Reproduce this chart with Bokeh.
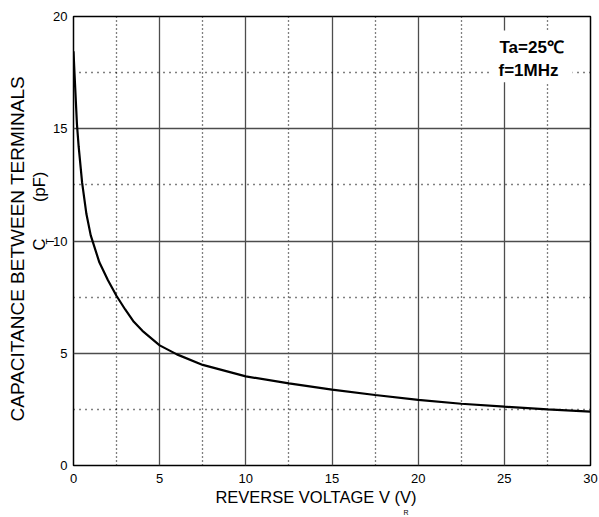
from bokeh.plotting import figure
from bokeh.models import Range1d, FixedTicker, Label, BoxAnnotation, Title
from bokeh.embed import file_html
from bokeh.resources import INLINE

# ---- data ----
reverse_voltage = [0, 0.05, 0.1, 0.2, 0.3, 0.5, 0.75, 1.0, 1.5, 2.0, 2.5, 3.0, 3.5, 4.0,
                   5.0, 6.0, 7.5, 10, 12.5, 15, 17.5, 20, 22.5, 25, 27.5, 30]
capacitance = [18.45, 17.6, 16.8, 15.2, 14.2, 12.6, 11.2, 10.25, 9.05, 8.25, 7.55, 6.95, 6.4, 6.0,
               5.35, 4.95, 4.48, 3.97, 3.66, 3.38, 3.14, 2.92, 2.75, 2.62, 2.5, 2.4]
x_ticks = [0, 5, 10, 15, 20, 25, 30]
x_minor = [2.5, 7.5, 12.5, 17.5, 22.5, 27.5]
y_ticks = [0, 5, 10, 15, 20]
y_minor = [2.5, 7.5, 12.5, 17.5]

FONT = "Liberation Sans"
W, H = 599, 517
BL, BR, BT, BB = 73, 9, 16, 50

p = figure(width=W, height=H, output_backend="svg", toolbar_location=None,
           x_range=Range1d(0, 30), y_range=Range1d(0, 20),
           min_border_left=BL, min_border_right=BR, min_border_top=BT, min_border_bottom=BB)
p.background_fill_color = "white"
p.border_fill_color = "white"
p.outline_line_color = "black"
p.outline_line_width = 1.5

p.xaxis.ticker = FixedTicker(ticks=x_ticks, minor_ticks=x_minor)
p.yaxis.ticker = FixedTicker(ticks=y_ticks, minor_ticks=y_minor)
for ax in (p.xaxis, p.yaxis):
    ax.axis_line_color = None
    ax.major_tick_out = 0
    ax.major_tick_in = 0
    ax.minor_tick_out = 0
    ax.minor_tick_in = 0
    ax.major_label_text_font = FONT
    ax.major_label_text_font_size = "13px"
    ax.major_label_text_color = "black"
p.yaxis.major_label_standoff = 6
p.xaxis.major_label_standoff = 8

# x-axis title (trailing no-break spaces shift the centred text to the left like the reference)
p.xaxis.axis_label = "REVERSE VOLTAGE V (V)" + "\u00a0" * 7
p.xaxis.axis_label_text_font = FONT
p.xaxis.axis_label_text_font_size = "16.5px"
p.xaxis.axis_label_text_font_style = "normal"
p.xaxis.axis_label_text_color = "black"
p.xaxis.axis_label_standoff = 2

p.xgrid.grid_line_color = "#4d4d4d"
p.ygrid.grid_line_color = "#4d4d4d"
p.xgrid.grid_line_width = 1.3
p.ygrid.grid_line_width = 1.3
p.xgrid.minor_grid_line_color = "black"
p.ygrid.minor_grid_line_color = "black"
p.xgrid.minor_grid_line_width = 1.3
p.ygrid.minor_grid_line_width = 1.3
p.xgrid.minor_grid_line_dash = "1 3"
p.ygrid.minor_grid_line_dash = "1 5"

p.line(reverse_voltage, capacitance, line_color="black", line_width=2.2)

# ---- side-panel titles (precise offsets along the frame) ----
def side_title(text, side, offset, size, standoff=0, valign="bottom"):
    t = Title(text=text, align="left", offset=offset, standoff=standoff,
              vertical_align=valign,
              text_font=FONT, text_font_size=size, text_font_style="normal",
              text_color="black")
    p.add_layout(t, side)
    return t

side_title("R", "below", 330, "7px", standoff=0, valign="top")

side_title("T", "left", 221, "10px", standoff=-10)
side_title("C" + "\u00a0" * 8 + "(pF)", "left", 215, "16.5px", standoff=0)
side_title("CAPACITANCE BETWEEN TERMINALS", "left", 44, "19px", standoff=0)

# ---- condition box ----
fx1 = W - BR
fy0 = BT
def dx(px):
    return (px - BL) / (W - BR - BL) * 30
def dy(py):
    return (H - BB - py) / (H - BB - BT) * 20

p.add_layout(BoxAnnotation(left=dx(fx1 - 99), right=dx(fx1 - 18), top=dy(fy0 + 14), bottom=dy(fy0 + 66),
                           fill_color="white", fill_alpha=1.0, line_color=None))
p.add_layout(Label(x=dx(fx1 - 91), y=dy(fy0 + 30.7), text="Ta=25\u2103",
                   text_font=FONT, text_font_size="17px", text_font_style="bold",
                   text_align="left", text_baseline="middle", text_color="black"))
p.add_layout(Label(x=dx(fx1 - 92), y=dy(fy0 + 54.5), text="f=1MHz",
                   text_font=FONT, text_font_size="17px", text_font_style="bold",
                   text_align="left", text_baseline="middle", text_color="black"))

open("out.html", "w").write(file_html(p, INLINE))
